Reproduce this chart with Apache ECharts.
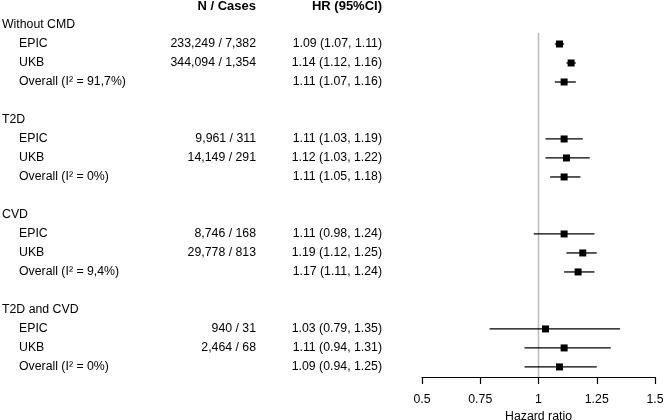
<!DOCTYPE html>
<html>
<head>
<meta charset="utf-8">
<script src="https://cdn.jsdelivr.net/npm/echarts@6/dist/echarts.min.js"></script>
<style>
  html, body { margin: 0; padding: 0; background: #fff; }
  #chart { width: 664px; height: 420px; }
</style>
</head>
<body>
<div id="chart"></div>
<script>
// subgroups, each one has EPIC, UKB and the pooled estimate
const groups = ['Without CMD', 'T2D', 'CVD', 'T2D and CVD']
const studies = ['EPIC', 'UKB']
const overallI2 = ['91,7%', '0%', '9,4%', '0%']
const nCases = [
	['233,249 / 7,382', '344,094 / 1,354'],
	['9,961 / 311', '14,149 / 291'],
	['8,746 / 168', '29,778 / 813'],
	['940 / 31', '2,464 / 68'],
]
// per group: EPIC, UKB, Overall
const hr = [1.09, 1.14, 1.11, 1.11, 1.12, 1.11, 1.11, 1.19, 1.17, 1.03, 1.11, 1.09]
const ciLow = [1.07, 1.12, 1.07, 1.03, 1.03, 1.05, 0.98, 1.12, 1.11, 0.79, 0.94, 0.94]
const ciHigh = [1.11, 1.16, 1.16, 1.19, 1.22, 1.18, 1.24, 1.25, 1.24, 1.35, 1.31, 1.25]
const xTicks = [0.5, 0.75, 1, 1.25, 1.5]

const fmt = v => v.toFixed(2)
const font = '"Liberation Sans", Arial, Helvetica, sans-serif'
const fontSize = 12.3

// build table rows (row index = position on the y axis)
const tableRows = []
const estimates = []
tableRows.push({ row: -1, cells: [null, 'N / Cases', 'HR (95%CI)'], bold: true })
groups.forEach((g, gi) => {
	const base = gi * 5
	tableRows.push({ row: base, cells: [g, null, null], header: true })
	const names = studies.concat(['Overall (I\u00b2 = ' + overallI2[gi] + ')'])
	names.forEach((name, k) => {
		const i = gi * 3 + k
		const row = base + 1 + k
		tableRows.push({
			row: row,
			cells: [name, k < 2 ? nCases[gi][k] : null, fmt(hr[i]) + ' (' + fmt(ciLow[i]) + ', ' + fmt(ciHigh[i]) + ')'],
		})
		estimates.push([hr[i], ciLow[i], ciHigh[i], row])
	})
})

const chart = echarts.init(document.getElementById('chart'), null, { renderer: 'canvas' })

const textEl = (x, y, text, align, bold) => ({
	type: 'text',
	x: x,
	y: y,
	style: {
		text: text,
		fill: '#000',
		fontSize: bold ? 13 : fontSize,
		fontFamily: font,
		fontWeight: bold ? 'bold' : 'normal',
		align: align,
		textAlign: align,
		verticalAlign: 'middle',
		textVerticalAlign: 'middle',
	},
})

const options = {
	animation: false,
	grid: { left: 422, right: 9, top: 6, bottom: 43, containLabel: false, outerBoundsMode: 'none' },
	xAxis: {
		type: 'value',
		position: 'bottom',
		min: 0.5,
		max: 1.5,
		interval: 0.25,
		splitLine: { show: false },
		axisLine: { onZero: false, lineStyle: { color: '#000', width: 1.2 } },
		axisTick: { length: 7, lineStyle: { color: '#000', width: 1.2 } },
		axisLabel: {
			color: '#000',
			fontSize: fontSize,
			fontFamily: font,
			margin: 17,
			formatter: v => String(xTicks.find(t => Math.abs(t - v) < 1e-9) ?? v),
		},
		name: 'Hazard ratio',
		nameLocation: 'middle',
		nameGap: 28,
		nameTextStyle: { color: '#000', fontSize: fontSize, fontFamily: font },
	},
	yAxis: {
		type: 'value',
		inverse: true,
		min: -1,
		max: 18.53,
		show: false,
	},
	series: [
		{
			name: 'reference',
			type: 'line',
			data: [[1, 0.42], [1, 18.53]],
			symbol: 'none',
			silent: true,
			z: 1,
			lineStyle: { color: '#bdbdbd', width: 1.6 },
		},
		{
			name: 'estimates',
			type: 'custom',
			z: 3,
			data: estimates,
			encode: { x: [0, 1, 2], y: 3 },
			renderItem: function(params, api) {
				const row = api.value(3)
				const p = api.coord([api.value(0), row])
				const a = api.coord([api.value(1), row])
				const b = api.coord([api.value(2), row])
				const s = 7
				return {
					type: 'group',
					children: [
						{
							type: 'line',
							shape: { x1: a[0], y1: a[1], x2: b[0], y2: b[1] },
							style: { stroke: '#000', lineWidth: 1.3 },
						},
						{
							type: 'rect',
							shape: { x: p[0] - s / 2, y: p[1] - s / 2, width: s, height: s },
							style: { fill: '#000' },
						},
					],
				}
			},
		},
		{
			name: 'table',
			type: 'custom',
			clip: false,
			silent: true,
			data: tableRows.map(r => [1, r.row]),
			encode: { x: 0, y: 1 },
			renderItem: function(params, api) {
				const r = tableRows[params.dataIndex]
				const y = api.coord([1, r.row])[1]
				const children = []
				if (r.cells[0]) children.push(textEl(r.header ? 2 : 19, y, r.cells[0], 'left', false))
				if (r.cells[1]) children.push(textEl(256, y, r.cells[1], 'right', r.bold))
				if (r.cells[2]) children.push(textEl(382, y, r.cells[2], 'right', r.bold))
				return { type: 'group', children: children }
			},
		},
	],
}
chart.setOption(options)
</script>
</body>
</html>
